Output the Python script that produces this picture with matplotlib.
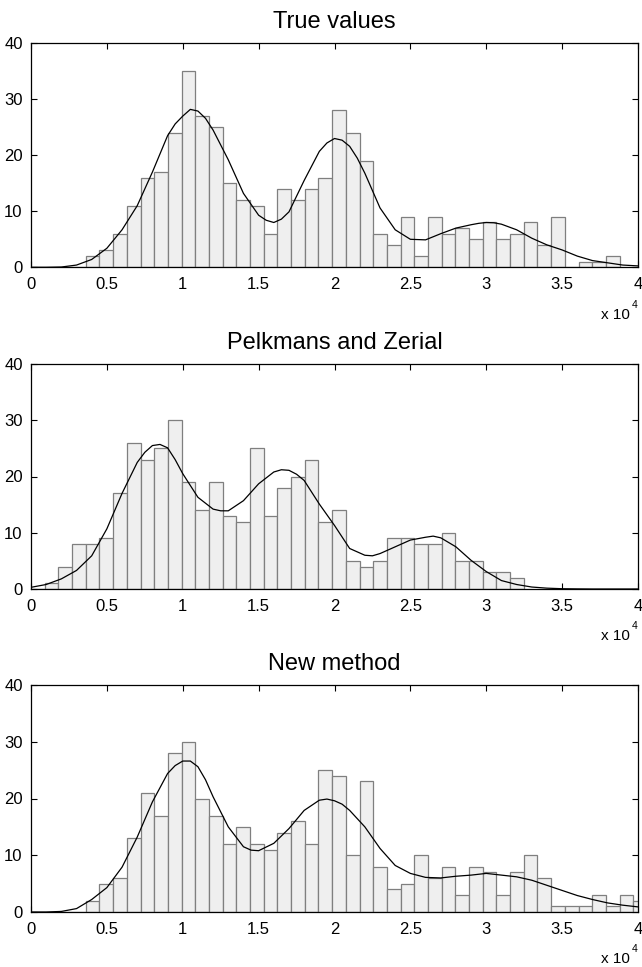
import numpy as np
import matplotlib
matplotlib.use("Agg")
import matplotlib.pyplot as plt

plt.rcParams['font.family'] = ['Liberation Sans', 'DejaVu Sans']

# -------- data -----------------------------------
titles = ["True values", "Pelkmans and Zerial", "New method"]

bin_width = 902  # histogram bins start at 0

# bar heights per bin, starting at bin 0
counts_true = [0, 0, 0, 0, 2, 3, 6, 11, 16, 17, 24, 35, 27, 25, 15, 12, 11, 6,
               14, 12, 14, 16, 28, 24, 19, 6, 4, 9, 2, 9, 6, 7, 5, 8, 5, 6, 8,
               4, 9, 0, 1, 1, 2]
counts_pz = [0, 1, 4, 8, 8, 9, 17, 26, 23, 25, 30, 19, 14, 19, 13, 12, 25, 13,
             18, 20, 23, 12, 14, 5, 4, 5, 9, 9, 8, 8, 10, 5, 5, 3, 3, 2]
counts_new = [0, 0, 0, 0, 2, 5, 6, 13, 21, 17, 28, 30, 20, 17, 12, 15, 12, 11,
              14, 16, 12, 25, 24, 10, 23, 8, 4, 5, 10, 6, 8, 3, 8, 7, 3, 7, 10,
              6, 1, 1, 1, 3, 1, 3, 2]

# smoothed density curves (x in units of 1e4)
curve_true_x = [0.0, 0.1, 0.2, 0.3, 0.4, 0.5, 0.6, 0.7, 0.8, 0.9, 0.95, 1.0,
                1.05, 1.1, 1.15, 1.2, 1.3, 1.4, 1.5, 1.55, 1.6, 1.65, 1.7,
                1.8, 1.9, 1.95, 2.0, 2.05, 2.1, 2.15, 2.2, 2.3, 2.4, 2.5, 2.6,
                2.7, 2.8, 2.9, 2.95, 3.0, 3.05, 3.1, 3.2, 3.3, 3.4, 3.5, 3.6,
                3.7, 3.8, 3.9, 4.0]
curve_true_y = [0.0, 0.0, 0.05, 0.4, 1.4, 3.4, 6.7, 11.0, 17.0, 23.5, 25.6,
                27.0, 28.2, 27.9, 26.6, 24.5, 19.2, 13.2, 9.3, 8.4, 8.0, 8.6,
                9.9, 15.5, 20.7, 22.2, 23.0, 22.7, 21.6, 19.5, 16.8, 10.6, 6.7,
                5.0, 4.9, 6.0, 7.0, 7.6, 7.85, 8.0, 7.95, 7.7, 6.7, 5.2, 4.0,
                3.1, 2.0, 1.2, 0.8, 0.4, 0.25]

curve_pz_x = [0.0, 0.1, 0.2, 0.3, 0.4, 0.5, 0.6, 0.7, 0.75, 0.8, 0.85, 0.9,
              0.95, 1.0, 1.1, 1.2, 1.25, 1.3, 1.4, 1.5, 1.6, 1.65, 1.7, 1.75,
              1.8, 1.9, 2.0, 2.1, 2.2, 2.25, 2.3, 2.4, 2.5, 2.6, 2.65, 2.7,
              2.8, 2.9, 3.0, 3.1, 3.2, 3.3, 3.4, 3.5, 3.6, 3.7, 4.0]
curve_pz_y = [0.3, 0.8, 1.8, 3.3, 5.9, 10.7, 17.0, 22.5, 24.3, 25.5, 25.7,
              25.1, 23.0, 20.5, 16.3, 14.2, 13.9, 13.9, 15.7, 18.7, 20.8,
              21.2, 21.1, 20.4, 19.3, 15.1, 11.3, 7.2, 6.0, 5.9, 6.3, 7.5,
              8.7, 9.2, 9.4, 9.1, 7.5, 5.1, 3.1, 1.5, 0.8, 0.35, 0.15, 0.05,
              0.02, 0.0, 0.0]

curve_new_x = [0.0, 0.1, 0.2, 0.3, 0.4, 0.5, 0.6, 0.7, 0.8, 0.9, 0.95, 1.0,
               1.05, 1.1, 1.15, 1.2, 1.3, 1.4, 1.45, 1.5, 1.6, 1.7, 1.8, 1.9,
               1.95, 2.0, 2.05, 2.1, 2.2, 2.3, 2.4, 2.5, 2.6, 2.7, 2.8, 2.9,
               3.0, 3.1, 3.2, 3.3, 3.4, 3.5, 3.6, 3.7, 3.8, 3.9, 4.0]
curve_new_y = [0.0, 0.0, 0.1, 0.6, 2.2, 4.3, 7.9, 13.2, 19.4, 24.4, 25.8,
               26.6, 26.6, 25.6, 23.3, 20.3, 15.0, 11.5, 10.9, 10.8, 12.1,
               14.7, 17.9, 19.7, 19.9, 19.6, 19.0, 17.9, 15.0, 11.2, 8.2, 6.8,
               6.1, 6.0, 6.3, 6.5, 6.8, 6.5, 6.2, 5.6, 4.7, 3.8, 2.9, 2.2,
               1.6, 1.2, 0.9]

xtick_vals = [0, 5000, 10000, 15000, 20000, 25000, 30000, 35000, 40000]
xtick_labels = ["0", "0.5", "1", "1.5", "2", "2.5", "3", "3.5", "4"]
ytick_vals = [0, 10, 20, 30, 40]

panels = [
    (counts_true, curve_true_x, curve_true_y),
    (counts_pz, curve_pz_x, curve_pz_y),
    (counts_new, curve_new_x, curve_new_y),
]

# axes rectangles in pixels: (top, bottom)
W, H = 642, 967
rects = [(43.3, 267.3), (364, 589), (685, 912)]

fig = plt.figure(figsize=(W / 100, H / 100), dpi=100)

for (counts, cx, cy), title, (top, bot) in zip(panels, titles, rects):
    ax = fig.add_axes([31 / W, 1 - bot / H, 607 / W, (bot - top) / H])
    lefts = np.arange(len(counts)) * bin_width
    ax.bar(lefts, counts, width=bin_width, align='edge', color='#efefef',
           edgecolor='#7f7f7f', linewidth=0.9, zorder=2)
    ax.plot(np.array(cx) * 1e4, cy, color='black', linewidth=0.9, zorder=3)

    ax.set_xlim(0, 40000)
    ax.set_ylim(0, 40)
    ax.set_xticks(xtick_vals)
    ax.set_xticklabels(xtick_labels)
    ax.set_yticks(ytick_vals)
    ax.tick_params(direction='in', length=4, width=0.8, top=True, right=True,
                   labelsize=12, colors='black')
    ax.tick_params(axis='x', pad=7)
    ax.tick_params(axis='y', pad=6)
    for s in ax.spines.values():
        s.set_linewidth(0.9)
    ax.set_title(title, fontsize=17, pad=11)

    # MATLAB style exponent label
    ax.annotate("x 10", xy=(1, 0), xycoords='axes fraction',
                xytext=(-6, -37), textcoords='offset points',
                ha='right', va='baseline', fontsize=11)
    ax.annotate("4", xy=(1, 0), xycoords='axes fraction',
                xytext=(0, -29), textcoords='offset points',
                ha='right', va='baseline', fontsize=7.5)

fig.savefig("out.png", dpi=100, facecolor='white')
